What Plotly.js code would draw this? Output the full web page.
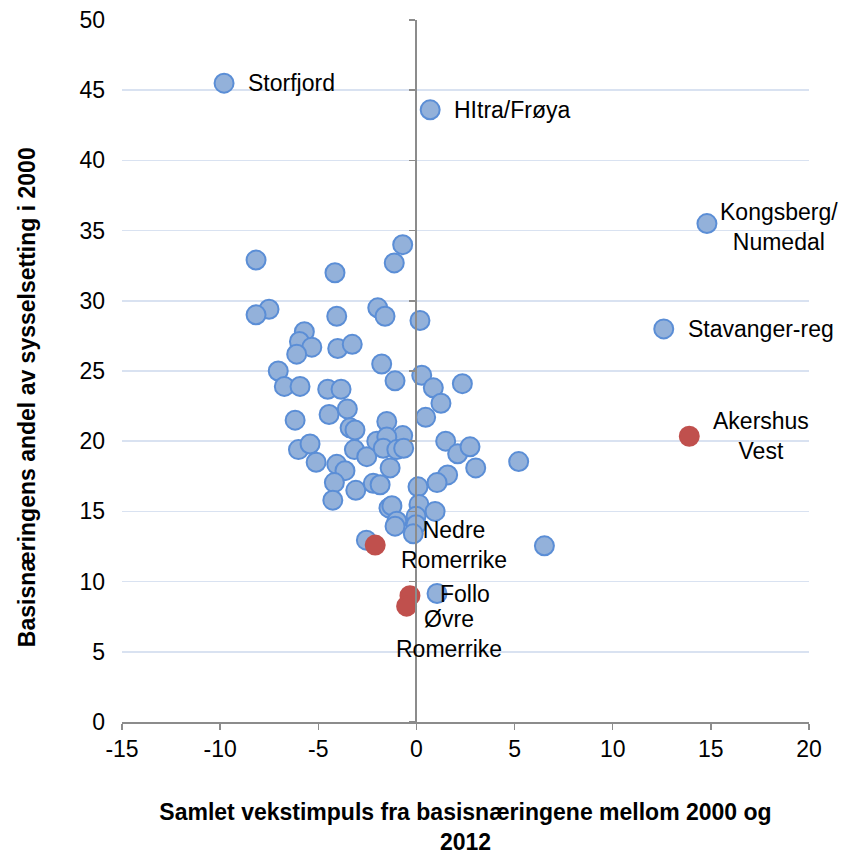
<!DOCTYPE html>
<html>
<head>
<meta charset="utf-8">
<script src="https://cdn.plot.ly/plotly-3.0.1.min.js"></script>
<style>html,body{margin:0;padding:0;background:#fff;}#chart{width:843px;height:855px;}</style>
</head>
<body>
<div id="chart"></div>
<script>
// Blue series: regions
var blueX = [-9.8, 0.7, 14.8, 12.6,
  -8.17, -4.15, -0.7, -1.13, -7.51, -8.17, -4.06, -1.97, -1.6, 0.18,
  -5.71, -5.96, -5.33, -6.1, -4.01, -3.27, -1.77, -7.04, -1.09,
  -6.73, -5.93, -4.52, -3.84, 0.27, 0.86, 2.34, 1.25, 0.47, -0.7,
  1.49, 2.1, 2.73, 3.02, 5.21, 1.59, 1.05, 0.08,
  -6.18, -4.45, -3.52, -3.38, -3.13, -1.51, -6.01, -5.42, -5.11, -4.06, -3.64,
  -3.16, -2.53, -2.02, -1.51, -1.69, -1.0, -0.65, -1.34, -4.18, -3.09, -2.2, -1.85,
  -4.26, -1.4, -1.25, 0.13, 0.95, -1.0, -1.09, -0.02, -0.02, -0.16, -2.55, 6.52, 1.05];
var blueY = [45.5, 43.6, 35.5, 28.0,
  32.9, 32.0, 34.0, 32.7, 29.4, 29.0, 28.9, 29.5, 28.9, 28.6,
  27.8, 27.1, 26.7, 26.2, 26.6, 26.9, 25.5, 25.0, 24.3,
  23.9, 23.9, 23.7, 23.7, 24.7, 23.8, 24.1, 22.7, 21.7, 20.4,
  20.0, 19.1, 19.6, 18.1, 18.55, 17.6, 17.05, 16.75,
  21.5, 21.9, 22.3, 20.95, 20.8, 21.4, 19.4, 19.8, 18.5, 18.35, 17.9,
  19.4, 18.9, 20.0, 20.3, 19.5, 19.4, 19.5, 18.1, 17.05, 16.5, 17.0, 16.9,
  15.8, 15.25, 15.4, 15.5, 15.0, 14.3, 13.95, 14.65, 14.05, 13.4, 12.95, 12.55, 9.15];
var blueLabels = ["Storfjord", "HItra/Frøya", "Kongsberg/<br>Numedal", "Stavanger-reg"];

// Red series: Akershus regions
var redX = [13.9, -2.1, -0.33, -0.5];
var redY = [20.35, 12.6, 9.0, 8.25];
var redLabels = ["Akershus<br>Vest", "Nedre<br>Romerrike", "Follo", "Øvre<br>Romerrike"];

var xTicks = [-15, -10, -5, 0, 5, 10, 15, 20];
var yTicks = [0, 5, 10, 15, 20, 25, 30, 35, 40, 45, 50];

var xTitle = 'Samlet vekstimpuls fra basisnæringene mellom 2000 og<br>2012';
var yTitle = 'Basisnæringens andel av sysselsetting i 2000';

var FONT = 'Liberation Sans, Arial, sans-serif';

var traces = [
  {x: blueX, y: blueY, type: 'scatter', mode: 'markers', cliponaxis: false,
   marker: {size: 19, color: '#93b1da', line: {color: '#5b8ed6', width: 2}}, hoverinfo: 'x+y'},
  {x: redX, y: redY, type: 'scatter', mode: 'markers', cliponaxis: false,
   marker: {size: 19, color: '#c0504d', line: {color: '#c0504d', width: 2}}, hoverinfo: 'x+y'},
  {x: [0, 0], y: [0, 50], type: 'scatter', mode: 'lines', yaxis: 'y2', hoverinfo: 'skip',
   line: {color: 'rgba(0,0,0,0)', width: 0}, showlegend: false}
];

// label offsets (pixels) relative to their points
var blueShift = [[22, 0, 'left'], [22, 0, 'left'], [11, -3, 'left'], [22, 0, 'left']];
var redShift = [[22, 0, 'left'], [24, 0, 'left'], [28, 2, 'left'], [42, -28, 'center']];

var LABEL_SIZE = 23;
var annotations = [];
for (var i = 0; i < blueLabels.length; i++) {
  annotations.push({x: blueX[i], y: blueY[i], text: blueLabels[i], showarrow: false,
    xanchor: blueShift[i][2], yanchor: 'middle', xshift: blueShift[i][0], yshift: blueShift[i][1],
    align: 'center', font: {family: FONT, size: LABEL_SIZE, color: '#000'}});
}
for (var j = 0; j < redLabels.length; j++) {
  annotations.push({x: redX[j], y: redY[j], text: redLabels[j], showarrow: false,
    xanchor: redShift[j][2], yanchor: 'middle', xshift: redShift[j][0], yshift: redShift[j][1],
    align: 'center', font: {family: FONT, size: LABEL_SIZE, color: '#000'}});
}
// y-axis title (placed slightly below the plot centre, as in the original)
annotations.push({xref: 'paper', yref: 'paper', x: -0.138, y: 0.463, text: '<b>' + yTitle + '</b>',
  textangle: -90, showarrow: false, xanchor: 'center', yanchor: 'middle',
  font: {family: FONT, size: 23, color: '#000'}});

var layout = {
  width: 843, height: 855,
  margin: {l: 122, r: 34, t: 20, b: 133},
  paper_bgcolor: '#fff', plot_bgcolor: '#fff',
  showlegend: false,
  font: {family: FONT, size: 23, color: '#000'},
  xaxis: {
    range: [-15, 20], tickvals: xTicks, ticktext: xTicks.map(String),
    showgrid: false, zeroline: true, zerolinecolor: '#8c8c8c', zerolinewidth: 2,
    showline: true, linecolor: '#8c8c8c', linewidth: 1.5,
    ticks: 'outside', ticklen: 6, tickcolor: '#8c8c8c', tickwidth: 1.5,
    tickfont: {family: FONT, size: 23, color: '#000'},
    title: {text: '<b>' + xTitle + '</b>',
      font: {family: FONT, size: 23, color: '#000'}, standoff: 50}
  },
  yaxis: {
    range: [0, 50], tickvals: yTicks, ticktext: yTicks.map(String),
    showgrid: true, gridcolor: '#d9e2f1', gridwidth: 1.5,
    zeroline: false, showline: false, ticks: '',
    ticklabelstandoff: 16,
    tickfont: {family: FONT, size: 23, color: '#000'}
  },
  yaxis2: {
    range: [0, 50], tickvals: yTicks, overlaying: 'y', anchor: 'free', position: 15/35,
    showgrid: false, zeroline: false, showline: true, linecolor: '#8c8c8c', linewidth: 2,
    ticks: 'outside', ticklen: 6, tickcolor: '#8c8c8c', tickwidth: 1.5,
    showticklabels: false
  },
  annotations: annotations
};

Plotly.newPlot('chart', traces, layout, {displayModeBar: false, staticPlot: true});
</script>
</body>
</html>
